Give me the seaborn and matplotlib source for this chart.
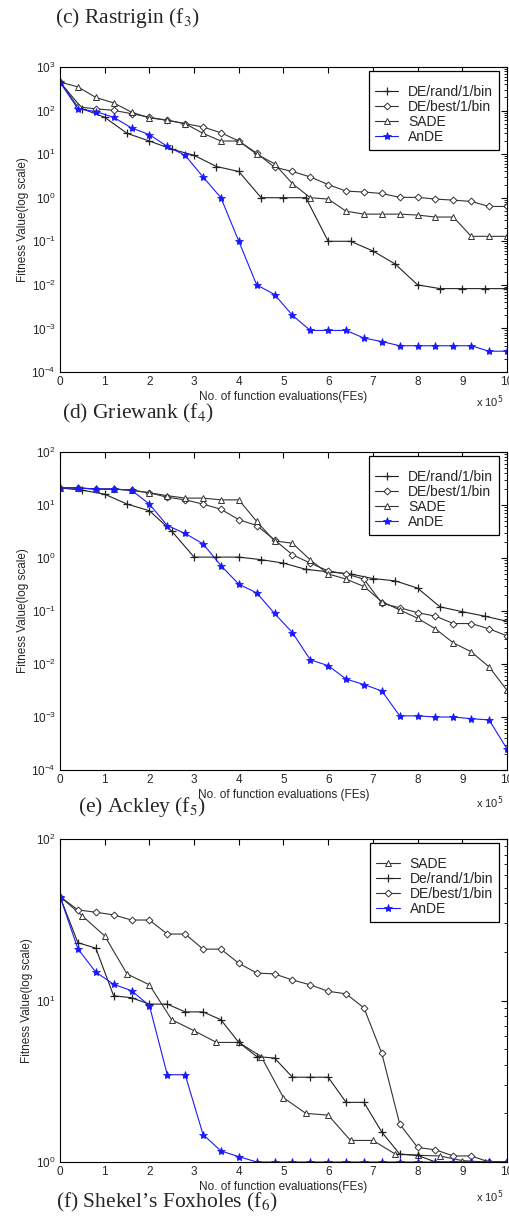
import numpy as np
import pandas as pd
import matplotlib
matplotlib.use("Agg")
import matplotlib.pyplot as plt
import matplotlib.ticker as mticker
import seaborn as sns

# x values are in units of 1e5 function evaluations
x04 = [0, 0.4, 0.8, 1.2, 1.6, 2.0, 2.4, 2.8, 3.2, 3.6, 4.0, 4.4, 4.8, 5.2,
       5.6, 6.0, 6.4, 6.8, 7.2, 7.6, 8.0, 8.4, 8.8, 9.2, 9.6, 10]
x05 = [0, 0.5, 1.0, 1.5, 2.0, 2.5, 3.0, 3.5, 4.0, 4.5, 5.0, 5.5, 6.0, 6.5,
       7.0, 7.5, 8.0, 8.5, 9.0, 9.5, 10]

# ---- (c) Rastrigin panel
ras_rand = [450, 110, 70, 30, 20, 13, 9.4, 5.2, 4.0, 1.0, 1.0, 1.0, 0.1, 0.1,
            0.06, 0.03, 0.01, 0.0082, 0.0082, 0.0082, 0.0082]
ras_best = [450, 121, 110, 101, 85, 70, 60, 50, 42, 31, 20, 10.5, 5.0, 4.0,
            3.0, 2.0, 1.42, 1.35, 1.25, 1.02, 1.02, 0.93, 0.88, 0.82, 0.63, 0.63]
ras_sade = [450, 350, 200, 150, 92, 68, 60, 50, 30, 20, 20, 10, 6.0, 2.1,
            1.0, 0.93, 0.49, 0.42, 0.42, 0.42, 0.4, 0.36, 0.36, 0.13, 0.13, 0.13]
ras_ande = [450, 110, 95, 70, 40, 28, 15, 9.4, 3.0, 1.0, 0.1, 0.01, 0.006, 0.002,
            0.0009, 0.0009, 0.0009, 0.0006, 0.0005, 0.0004, 0.0004, 0.0004,
            0.0004, 0.0004, 0.0003, 0.0003]

# ---- (d) Griewank panel
gri_rand = [21, 19, 16, 10.4, 7.8, 3.2, 1.04, 1.04, 1.04, 0.93, 0.8, 0.61,
            0.55, 0.5, 0.41, 0.37, 0.27, 0.12, 0.097, 0.08, 0.064]
gri_best = [21, 21, 20, 20, 19, 17, 14, 12.5, 10.4, 8.3, 5.3, 4.1, 2.2, 1.15,
            0.8, 0.57, 0.5, 0.4, 0.14, 0.115, 0.093, 0.08, 0.058, 0.058, 0.046, 0.034]
gri_sade = [21, 21, 20, 20, 19, 17, 15, 13.5, 13.5, 12.5, 12.5, 4.9, 2.1, 1.9,
            0.92, 0.5, 0.4, 0.29, 0.15, 0.105, 0.073, 0.046, 0.025, 0.017,
            0.0088, 0.0032]
gri_ande = [21, 21, 20, 20, 19, 10.4, 4.1, 2.9, 1.85, 0.72, 0.32, 0.22, 0.09,
            0.039, 0.012, 0.0093, 0.0052, 0.0041, 0.0031, 0.00105, 0.00105,
            0.001, 0.001, 0.00093, 0.00088, 0.00025]

# ---- (e) Ackley panel
ack_sade = [44, 33.4, 25.1, 14.6, 12.5, 7.6, 6.5, 5.5, 5.5, 4.5, 2.5, 2.0,
            1.95, 1.36, 1.36, 1.12, 1.1, 1.09, 1.02, 1.0, 1.0]
ack_rand = [44, 22.8, 21.1, 10.7, 10.4, 9.5, 9.5, 8.5, 8.5, 7.6, 5.5, 4.5, 4.4,
            3.35, 3.35, 3.35, 2.34, 2.34, 1.53, 1.12, 1.1, 1.0, 1.0, 1.0, 1.0, 1.0]
ack_best = [44, 36.4, 35.2, 33.9, 31.5, 31.5, 25.8, 25.8, 20.8, 20.8, 17.0,
            14.8, 14.6, 13.4, 12.5, 11.4, 11.0, 9.0, 4.7, 1.72, 1.23, 1.19,
            1.09, 1.09, 1.0, 1.0]
ack_ande = [44, 20.9, 15.0, 12.6, 11.5, 9.3, 3.47, 3.47, 1.48, 1.17, 1.08,
            1.0, 1.0, 1.0, 1.0, 1.0, 1.0, 1.0, 1.0, 1.0, 1.0, 1.0, 1.0, 1.0,
            1.0, 1.0]

sns.set_theme(style="white")
plt.rcParams["font.family"] = ["Liberation Sans", "DejaVu Sans"]
plt.rcParams["xtick.direction"] = "in"
plt.rcParams["ytick.direction"] = "in"

fig = plt.figure(figsize=(5.1, 12.16), dpi=100)

ink = "#222222"
blue = "#1a1aff"
sty = {
    "rand": dict(color=ink, marker="+", ms=6, mew=0.9),
    "best": dict(color="#333333", marker="D", ms=3.5, mew=0.7, mfc="white"),
    "sade": dict(color="#333333", marker="^", ms=4.5, mew=0.7, mfc="white"),
    "ande": dict(color=blue, marker="*", ms=6, mew=0.6),
}

panels = [
    dict(rect=[60 / 510, 1 - 372 / 1216, 447 / 510, 305 / 1216],
         ylim=(1e-4, 1e3), xlabel="No. of function evaluations(FEs)",
         series=[("DE/rand/1/bin", x05, ras_rand, "rand"),
                 ("DE/best/1/bin", x04, ras_best, "best"),
                 ("SADE", x04, ras_sade, "sade"),
                 ("AnDE", x04, ras_ande, "ande")]),
    dict(rect=[60 / 510, 1 - 770 / 1216, 447 / 510, 318 / 1216],
         ylim=(1e-4, 1e2), xlabel="No. of function evaluations (FEs)",
         series=[("DE/rand/1/bin", x05, gri_rand, "rand"),
                 ("DE/best/1/bin", x04, gri_best, "best"),
                 ("SADE", x04, gri_sade, "sade"),
                 ("AnDE", x04, gri_ande, "ande")]),
    dict(rect=[60 / 510, 1 - 1162 / 1216, 447 / 510, 323 / 1216],
         ylim=(1, 1e2), xlabel="No. of function evaluations(FEs)",
         series=[("SADE", x05, ack_sade, "sade"),
                 ("De/rand/1/bin", x04, ack_rand, "rand"),
                 ("DE/best/1/bin", x04, ack_best, "best"),
                 ("AnDE", x04, ack_ande, "ande")]),
]

for p in panels:
    ax = fig.add_axes(p["rect"])
    for name, xs, ys, key in p["series"]:
        df = pd.DataFrame({"x": xs, "y": ys})
        s = sty[key]
        sns.lineplot(data=df, x="x", y="y", ax=ax, label=name, lw=0.8,
                     color=s["color"], marker=s["marker"], ms=s["ms"],
                     mew=s["mew"], mec=s["color"], mfc=s.get("mfc", s["color"]))
    ax.set_yscale("log")
    ax.set_xlim(0, 10)
    ax.set_ylim(*p["ylim"])
    ax.xaxis.set_major_locator(mticker.MultipleLocator(1))
    ax.yaxis.set_major_locator(mticker.LogLocator(base=10, numticks=20))
    ax.yaxis.set_minor_locator(mticker.LogLocator(base=10, subs=np.arange(2, 10), numticks=20))
    ax.yaxis.set_minor_formatter(mticker.NullFormatter())
    ax.tick_params(which="both", top=True, right=True, labelsize=8.5,
                   color="black", pad=3)
    ax.tick_params(which="major", length=4, width=0.8)
    ax.tick_params(which="minor", length=2, width=0.6)
    for sp in ax.spines.values():
        sp.set_color("black")
        sp.set_linewidth(0.8)
    ax.set_xlabel(p["xlabel"], fontsize=8.5, labelpad=2)
    ax.set_ylabel("Fitness Value(log scale)", fontsize=8.5, labelpad=2)
    leg = ax.legend(loc="upper right", bbox_to_anchor=(0.983, 0.987),
                    fontsize=10, frameon=True, fancybox=False,
                    edgecolor="black", framealpha=1, borderpad=0.45,
                    labelspacing=0.06, handlelength=1.7, handletextpad=0.7,
                    borderaxespad=0, title=" ", title_fontsize=6)
    leg.get_frame().set_linewidth(0.9)

# captions and the x-axis multiplier
caps = [("(c) Rastrigin (f$_{3}$)", 55, 18),
        ("(d) Griewank (f$_{4}$)", 62, 413),
        ("(e) Ackley (f$_{5}$)", 78, 807),
        ("(f) Shekel\u2019s Foxholes (f$_{6}$)", 56, 1202)]
for txt, px, py in caps:
    fig.text(px / 510, 1 - py / 1216, txt, family="Liberation Serif",
             fontsize=15.5, va="center", ha="left", math_fontfamily="stix")
for py in (402, 803, 1197):
    fig.text(476 / 510, 1 - py / 1216, "x 10$^{5}$", fontsize=8,
             va="center", ha="left")

fig.savefig("out.png", dpi=100)
